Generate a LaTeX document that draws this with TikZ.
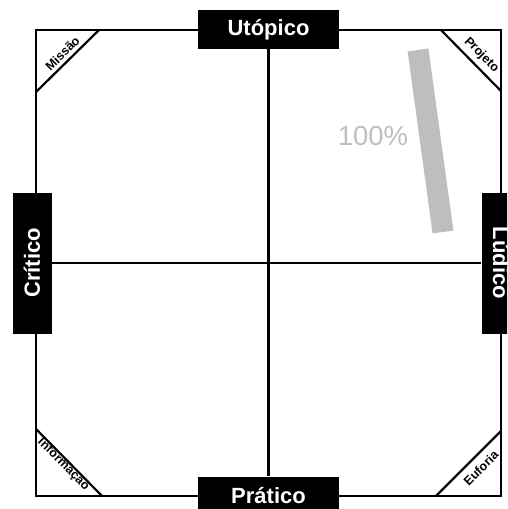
\documentclass[tikz,border=0pt]{standalone}
\usepackage{fontspec}
\setmainfont{Liberation Sans}
\definecolor{bargray}{RGB}{190,190,190}
\begin{document}
\begin{tikzpicture}[x=1pt,y=-1pt,
  frame/.style={line width=2.4pt,line cap=rect},
  cross/.style={line width=2.2pt},
  axisbox/.style={fill=black,text=white,font=\bfseries\fontsize{22}{24}\selectfont,
    minimum width=141pt,minimum height=39pt,inner sep=0pt},
  corner/.style={font=\bfseries\fontsize{12.5}{14}\selectfont,inner sep=0pt}]
\useasboundingbox (0,0) rectangle (507,509);
\clip (0,0) rectangle (507,509);
\fill[white] (0,0) rectangle (507,509);
\coordinate (TL) at (36,30);
\coordinate (TR) at (501,30);
\coordinate (BR) at (501,496);
\coordinate (BL) at (36,496);
\draw[frame] (TL) -- (TR) -- (BR) -- (BL) -- cycle;
% corner diagonals
\coordinate (tl1) at (36,92); \coordinate (tl2) at (99,30);
\coordinate (tr1) at (441,30); \coordinate (tr2) at (501,91);
\coordinate (bl1) at (36,429); \coordinate (bl2) at (102,496);
\coordinate (br1) at (436,496); \coordinate (br2) at (501,431);
\draw[cross] (tl1) -- (tl2);
\draw[cross] (tr1) -- (tr2);
\draw[cross] (bl1) -- (bl2);
\draw[cross] (br1) -- (br2);
\node[corner,rotate=45] (missao) at (62.5,53.5) {Missão};
\node[corner,rotate=-45] (projeto) at (481.5,55) {Projeto};
\node[corner,rotate=-45] (info) at (63.5,464.5) {Informação};
\node[corner,rotate=45] (euforia) at (481,468) {Euforia};
% gray bar and label
\coordinate (barA) at (418,50);
\coordinate (barB) at (443,232);
\draw[bargray,line width=21pt] (barA) -- (barB);
\node[text=bargray,font=\fontsize{27.5}{30}\selectfont,inner sep=0pt] (pct) at (373,136) {100\%};
% axis boxes
\node[axisbox] (top) at (268.5,29.5) {Utópico};
\node[axisbox] (bottom) at (268.5,496) {Prático};
\node[axisbox,rotate=90] (left) at (32,263) {Crítico};
\node[axisbox,rotate=-90] (right) at (501,263) {Lúdico};
\draw[cross] (top.south) -- (bottom.north);
\draw[cross] (left.south) -- (right.south);
\end{tikzpicture}
\end{document}
